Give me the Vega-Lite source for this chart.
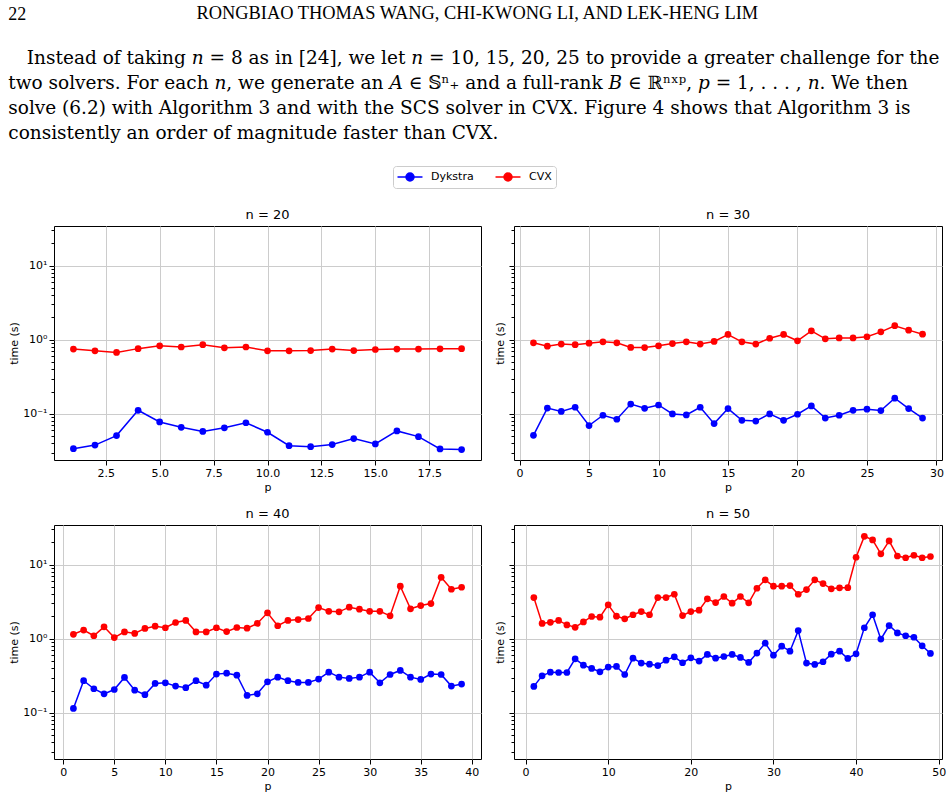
{
  "$schema": "https://vega.github.io/schema/vega-lite/v6.json",
  "padding": {"left": 8, "top": 3, "right": 2, "bottom": 3},
  "background": "white",
  "title": {"text": "22", "anchor": "start", "font": "Liberation Serif", "fontSize": 18, "fontWeight": "normal", "offset": -20},
  "resolve": {"scale": {"color": "independent"}},
  "vconcat": [
    {
      "title": {"text": "RONGBIAO THOMAS WANG, CHI-KWONG LI, AND LEK-HENG LIM", "anchor": "middle", "font": "Liberation Serif", "fontSize": 18.4, "fontWeight": "normal", "offset": 27},
      "resolve": {"scale": {"color": "independent"}},
      "vconcat": [
        {
          "title": {
            "text": [
              "\u200b\u2003Instead of taking 𝑛 = 8 as in [24], we let 𝑛 = 10, 15, 20, 25 to provide a greater challenge for the",
              "two solvers. For each 𝑛, we generate an 𝐴 ∈ 𝕊ⁿ₊ and a full-rank 𝐵 ∈ ℝⁿˣᵖ, 𝑝 = 1, . . . , 𝑛. We then",
              "solve (6.2) with Algorithm 3 and with the SCS solver in CVX. Figure 4 shows that Algorithm 3 is",
              "consistently an order of magnitude faster than CVX."
            ],
            "anchor": "start", "font": "DejaVu Serif", "fontSize": 18.5, "fontWeight": "normal", "lineHeight": 25, "offset": 23
          },
          "data": {"values": [
{"n":20,"p":1,"solver":"Dykstra","time":0.034},{"n":20,"p":2,"solver":"Dykstra","time":0.038},{"n":20,"p":3,"solver":"Dykstra","time":0.051},{"n":20,"p":4,"solver":"Dykstra","time":0.112},{"n":20,"p":5,"solver":"Dykstra","time":0.078},{"n":20,"p":6,"solver":"Dykstra","time":0.066},{"n":20,"p":7,"solver":"Dykstra","time":0.058},{"n":20,"p":8,"solver":"Dykstra","time":0.065},{"n":20,"p":9,"solver":"Dykstra","time":0.076},{"n":20,"p":10,"solver":"Dykstra","time":0.0566},{"n":20,"p":11,"solver":"Dykstra","time":0.0373},{"n":20,"p":12,"solver":"Dykstra","time":0.0362},{"n":20,"p":13,"solver":"Dykstra","time":0.0386},{"n":20,"p":14,"solver":"Dykstra","time":0.0465},{"n":20,"p":15,"solver":"Dykstra","time":0.0394},{"n":20,"p":16,"solver":"Dykstra","time":0.059},{"n":20,"p":17,"solver":"Dykstra","time":0.0494},{"n":20,"p":18,"solver":"Dykstra","time":0.0337},{"n":20,"p":19,"solver":"Dykstra","time":0.033},
{"n":20,"p":1,"solver":"CVX","time":0.75},{"n":20,"p":2,"solver":"CVX","time":0.71},{"n":20,"p":3,"solver":"CVX","time":0.675},{"n":20,"p":4,"solver":"CVX","time":0.76},{"n":20,"p":5,"solver":"CVX","time":0.83},{"n":20,"p":6,"solver":"CVX","time":0.8},{"n":20,"p":7,"solver":"CVX","time":0.86},{"n":20,"p":8,"solver":"CVX","time":0.78},{"n":20,"p":9,"solver":"CVX","time":0.8},{"n":20,"p":10,"solver":"CVX","time":0.71},{"n":20,"p":11,"solver":"CVX","time":0.71},{"n":20,"p":12,"solver":"CVX","time":0.715},{"n":20,"p":13,"solver":"CVX","time":0.75},{"n":20,"p":14,"solver":"CVX","time":0.715},{"n":20,"p":15,"solver":"CVX","time":0.74},{"n":20,"p":16,"solver":"CVX","time":0.75},{"n":20,"p":17,"solver":"CVX","time":0.75},{"n":20,"p":18,"solver":"CVX","time":0.755},{"n":20,"p":19,"solver":"CVX","time":0.76},
{"n":30,"p":1,"solver":"Dykstra","time":0.0515},{"n":30,"p":2,"solver":"Dykstra","time":0.12},{"n":30,"p":3,"solver":"Dykstra","time":0.108},{"n":30,"p":4,"solver":"Dykstra","time":0.123},{"n":30,"p":5,"solver":"Dykstra","time":0.0697},{"n":30,"p":6,"solver":"Dykstra","time":0.096},{"n":30,"p":7,"solver":"Dykstra","time":0.0848},{"n":30,"p":8,"solver":"Dykstra","time":0.136},{"n":30,"p":9,"solver":"Dykstra","time":0.119},{"n":30,"p":10,"solver":"Dykstra","time":0.132},{"n":30,"p":11,"solver":"Dykstra","time":0.1},{"n":30,"p":12,"solver":"Dykstra","time":0.097},{"n":30,"p":13,"solver":"Dykstra","time":0.123},{"n":30,"p":14,"solver":"Dykstra","time":0.074},{"n":30,"p":15,"solver":"Dykstra","time":0.118},{"n":30,"p":16,"solver":"Dykstra","time":0.082},{"n":30,"p":17,"solver":"Dykstra","time":0.08},{"n":30,"p":18,"solver":"Dykstra","time":0.1},{"n":30,"p":19,"solver":"Dykstra","time":0.082},{"n":30,"p":20,"solver":"Dykstra","time":0.099},{"n":30,"p":21,"solver":"Dykstra","time":0.128},{"n":30,"p":22,"solver":"Dykstra","time":0.088},{"n":30,"p":23,"solver":"Dykstra","time":0.096},{"n":30,"p":24,"solver":"Dykstra","time":0.112},{"n":30,"p":25,"solver":"Dykstra","time":0.116},{"n":30,"p":26,"solver":"Dykstra","time":0.111},{"n":30,"p":27,"solver":"Dykstra","time":0.163},{"n":30,"p":28,"solver":"Dykstra","time":0.118},{"n":30,"p":29,"solver":"Dykstra","time":0.088},
{"n":30,"p":1,"solver":"CVX","time":0.91},{"n":30,"p":2,"solver":"CVX","time":0.82},{"n":30,"p":3,"solver":"CVX","time":0.875},{"n":30,"p":4,"solver":"CVX","time":0.86},{"n":30,"p":5,"solver":"CVX","time":0.9},{"n":30,"p":6,"solver":"CVX","time":0.94},{"n":30,"p":7,"solver":"CVX","time":0.91},{"n":30,"p":8,"solver":"CVX","time":0.79},{"n":30,"p":9,"solver":"CVX","time":0.785},{"n":30,"p":10,"solver":"CVX","time":0.83},{"n":30,"p":11,"solver":"CVX","time":0.89},{"n":30,"p":12,"solver":"CVX","time":0.94},{"n":30,"p":13,"solver":"CVX","time":0.875},{"n":30,"p":14,"solver":"CVX","time":0.95},{"n":30,"p":15,"solver":"CVX","time":1.18},{"n":30,"p":16,"solver":"CVX","time":0.94},{"n":30,"p":17,"solver":"CVX","time":0.875},{"n":30,"p":18,"solver":"CVX","time":1.05},{"n":30,"p":19,"solver":"CVX","time":1.18},{"n":30,"p":20,"solver":"CVX","time":0.97},{"n":30,"p":21,"solver":"CVX","time":1.32},{"n":30,"p":22,"solver":"CVX","time":1.03},{"n":30,"p":23,"solver":"CVX","time":1.06},{"n":30,"p":24,"solver":"CVX","time":1.06},{"n":30,"p":25,"solver":"CVX","time":1.1},{"n":30,"p":26,"solver":"CVX","time":1.28},{"n":30,"p":27,"solver":"CVX","time":1.55},{"n":30,"p":28,"solver":"CVX","time":1.35},{"n":30,"p":29,"solver":"CVX","time":1.19},
{"n":40,"p":1,"solver":"Dykstra","time":0.115},{"n":40,"p":2,"solver":"Dykstra","time":0.272},{"n":40,"p":3,"solver":"Dykstra","time":0.212},{"n":40,"p":4,"solver":"Dykstra","time":0.181},{"n":40,"p":5,"solver":"Dykstra","time":0.207},{"n":40,"p":6,"solver":"Dykstra","time":0.301},{"n":40,"p":7,"solver":"Dykstra","time":0.203},{"n":40,"p":8,"solver":"Dykstra","time":0.176},{"n":40,"p":9,"solver":"Dykstra","time":0.25},{"n":40,"p":10,"solver":"Dykstra","time":0.255},{"n":40,"p":11,"solver":"Dykstra","time":0.23},{"n":40,"p":12,"solver":"Dykstra","time":0.219},{"n":40,"p":13,"solver":"Dykstra","time":0.272},{"n":40,"p":14,"solver":"Dykstra","time":0.237},{"n":40,"p":15,"solver":"Dykstra","time":0.334},{"n":40,"p":16,"solver":"Dykstra","time":0.344},{"n":40,"p":17,"solver":"Dykstra","time":0.323},{"n":40,"p":18,"solver":"Dykstra","time":0.172},{"n":40,"p":19,"solver":"Dykstra","time":0.181},{"n":40,"p":20,"solver":"Dykstra","time":0.263},{"n":40,"p":21,"solver":"Dykstra","time":0.304},{"n":40,"p":22,"solver":"Dykstra","time":0.272},{"n":40,"p":23,"solver":"Dykstra","time":0.258},{"n":40,"p":24,"solver":"Dykstra","time":0.258},{"n":40,"p":25,"solver":"Dykstra","time":0.286},{"n":40,"p":26,"solver":"Dykstra","time":0.355},{"n":40,"p":27,"solver":"Dykstra","time":0.304},{"n":40,"p":28,"solver":"Dykstra","time":0.292},{"n":40,"p":29,"solver":"Dykstra","time":0.304},{"n":40,"p":30,"solver":"Dykstra","time":0.355},{"n":40,"p":31,"solver":"Dykstra","time":0.255},{"n":40,"p":32,"solver":"Dykstra","time":0.33},{"n":40,"p":33,"solver":"Dykstra","time":0.374},{"n":40,"p":34,"solver":"Dykstra","time":0.304},{"n":40,"p":35,"solver":"Dykstra","time":0.283},{"n":40,"p":36,"solver":"Dykstra","time":0.334},{"n":40,"p":37,"solver":"Dykstra","time":0.33},{"n":40,"p":38,"solver":"Dykstra","time":0.23},{"n":40,"p":39,"solver":"Dykstra","time":0.245},
{"n":40,"p":1,"solver":"CVX","time":1.15},{"n":40,"p":2,"solver":"CVX","time":1.31},{"n":40,"p":3,"solver":"CVX","time":1.1},{"n":40,"p":4,"solver":"CVX","time":1.45},{"n":40,"p":5,"solver":"CVX","time":1.04},{"n":40,"p":6,"solver":"CVX","time":1.24},{"n":40,"p":7,"solver":"CVX","time":1.18},{"n":40,"p":8,"solver":"CVX","time":1.38},{"n":40,"p":9,"solver":"CVX","time":1.48},{"n":40,"p":10,"solver":"CVX","time":1.41},{"n":40,"p":11,"solver":"CVX","time":1.66},{"n":40,"p":12,"solver":"CVX","time":1.77},{"n":40,"p":13,"solver":"CVX","time":1.24},{"n":40,"p":14,"solver":"CVX","time":1.24},{"n":40,"p":15,"solver":"CVX","time":1.41},{"n":40,"p":16,"solver":"CVX","time":1.25},{"n":40,"p":17,"solver":"CVX","time":1.42},{"n":40,"p":18,"solver":"CVX","time":1.39},{"n":40,"p":19,"solver":"CVX","time":1.61},{"n":40,"p":20,"solver":"CVX","time":2.24},{"n":40,"p":21,"solver":"CVX","time":1.5},{"n":40,"p":22,"solver":"CVX","time":1.77},{"n":40,"p":23,"solver":"CVX","time":1.82},{"n":40,"p":24,"solver":"CVX","time":1.88},{"n":40,"p":25,"solver":"CVX","time":2.64},{"n":40,"p":26,"solver":"CVX","time":2.35},{"n":40,"p":27,"solver":"CVX","time":2.31},{"n":40,"p":28,"solver":"CVX","time":2.67},{"n":40,"p":29,"solver":"CVX","time":2.51},{"n":40,"p":30,"solver":"CVX","time":2.35},{"n":40,"p":31,"solver":"CVX","time":2.35},{"n":40,"p":32,"solver":"CVX","time":2.04},{"n":40,"p":33,"solver":"CVX","time":5.12},{"n":40,"p":34,"solver":"CVX","time":2.54},{"n":40,"p":35,"solver":"CVX","time":2.81},{"n":40,"p":36,"solver":"CVX","time":2.99},{"n":40,"p":37,"solver":"CVX","time":6.76},{"n":40,"p":38,"solver":"CVX","time":4.66},{"n":40,"p":39,"solver":"CVX","time":4.96},
{"n":50,"p":1,"solver":"Dykstra","time":0.228},{"n":50,"p":2,"solver":"Dykstra","time":0.317},{"n":50,"p":3,"solver":"Dykstra","time":0.355},{"n":50,"p":4,"solver":"Dykstra","time":0.351},{"n":50,"p":5,"solver":"Dykstra","time":0.351},{"n":50,"p":6,"solver":"Dykstra","time":0.537},{"n":50,"p":7,"solver":"Dykstra","time":0.441},{"n":50,"p":8,"solver":"Dykstra","time":0.398},{"n":50,"p":9,"solver":"Dykstra","time":0.359},{"n":50,"p":10,"solver":"Dykstra","time":0.415},{"n":50,"p":11,"solver":"Dykstra","time":0.424},{"n":50,"p":12,"solver":"Dykstra","time":0.33},{"n":50,"p":13,"solver":"Dykstra","time":0.548},{"n":50,"p":14,"solver":"Dykstra","time":0.47},{"n":50,"p":15,"solver":"Dykstra","time":0.455},{"n":50,"p":16,"solver":"Dykstra","time":0.436},{"n":50,"p":17,"solver":"Dykstra","time":0.515},{"n":50,"p":18,"solver":"Dykstra","time":0.572},{"n":50,"p":19,"solver":"Dykstra","time":0.475},{"n":50,"p":20,"solver":"Dykstra","time":0.554},{"n":50,"p":21,"solver":"Dykstra","time":0.5},{"n":50,"p":22,"solver":"Dykstra","time":0.615},{"n":50,"p":23,"solver":"Dykstra","time":0.548},{"n":50,"p":24,"solver":"Dykstra","time":0.577},{"n":50,"p":25,"solver":"Dykstra","time":0.615},{"n":50,"p":26,"solver":"Dykstra","time":0.56},{"n":50,"p":27,"solver":"Dykstra","time":0.48},{"n":50,"p":28,"solver":"Dykstra","time":0.641},{"n":50,"p":29,"solver":"Dykstra","time":0.873},{"n":50,"p":30,"solver":"Dykstra","time":0.601},{"n":50,"p":31,"solver":"Dykstra","time":0.796},{"n":50,"p":32,"solver":"Dykstra","time":0.681},{"n":50,"p":33,"solver":"Dykstra","time":1.29},{"n":50,"p":34,"solver":"Dykstra","time":0.47},{"n":50,"p":35,"solver":"Dykstra","time":0.451},{"n":50,"p":36,"solver":"Dykstra","time":0.49},{"n":50,"p":37,"solver":"Dykstra","time":0.621},{"n":50,"p":38,"solver":"Dykstra","time":0.681},{"n":50,"p":39,"solver":"Dykstra","time":0.543},{"n":50,"p":40,"solver":"Dykstra","time":0.628},{"n":50,"p":41,"solver":"Dykstra","time":1.41},{"n":50,"p":42,"solver":"Dykstra","time":2.11},{"n":50,"p":43,"solver":"Dykstra","time":0.99},{"n":50,"p":44,"solver":"Dykstra","time":1.51},{"n":50,"p":45,"solver":"Dykstra","time":1.2},{"n":50,"p":46,"solver":"Dykstra","time":1.1},{"n":50,"p":47,"solver":"Dykstra","time":1.05},{"n":50,"p":48,"solver":"Dykstra","time":0.805},{"n":50,"p":49,"solver":"Dykstra","time":0.634},
{"n":50,"p":1,"solver":"CVX","time":3.6},{"n":50,"p":2,"solver":"CVX","time":1.61},{"n":50,"p":3,"solver":"CVX","time":1.67},{"n":50,"p":4,"solver":"CVX","time":1.77},{"n":50,"p":5,"solver":"CVX","time":1.54},{"n":50,"p":6,"solver":"CVX","time":1.43},{"n":50,"p":7,"solver":"CVX","time":1.69},{"n":50,"p":8,"solver":"CVX","time":2.0},{"n":50,"p":9,"solver":"CVX","time":1.96},{"n":50,"p":10,"solver":"CVX","time":2.87},{"n":50,"p":11,"solver":"CVX","time":2.02},{"n":50,"p":12,"solver":"CVX","time":1.86},{"n":50,"p":13,"solver":"CVX","time":2.11},{"n":50,"p":14,"solver":"CVX","time":2.33},{"n":50,"p":15,"solver":"CVX","time":2.11},{"n":50,"p":16,"solver":"CVX","time":3.6},{"n":50,"p":17,"solver":"CVX","time":3.6},{"n":50,"p":18,"solver":"CVX","time":3.99},{"n":50,"p":19,"solver":"CVX","time":2.06},{"n":50,"p":20,"solver":"CVX","time":2.33},{"n":50,"p":21,"solver":"CVX","time":2.43},{"n":50,"p":22,"solver":"CVX","time":3.46},{"n":50,"p":23,"solver":"CVX","time":3.08},{"n":50,"p":24,"solver":"CVX","time":3.72},{"n":50,"p":25,"solver":"CVX","time":3.02},{"n":50,"p":26,"solver":"CVX","time":3.72},{"n":50,"p":27,"solver":"CVX","time":3.06},{"n":50,"p":28,"solver":"CVX","time":4.81},{"n":50,"p":29,"solver":"CVX","time":6.24},{"n":50,"p":30,"solver":"CVX","time":5.12},{"n":50,"p":31,"solver":"CVX","time":5.12},{"n":50,"p":32,"solver":"CVX","time":5.23},{"n":50,"p":33,"solver":"CVX","time":3.99},{"n":50,"p":34,"solver":"CVX","time":4.62},{"n":50,"p":35,"solver":"CVX","time":6.24},{"n":50,"p":36,"solver":"CVX","time":5.56},{"n":50,"p":37,"solver":"CVX","time":4.72},{"n":50,"p":38,"solver":"CVX","time":4.87},{"n":50,"p":39,"solver":"CVX","time":4.9},{"n":50,"p":40,"solver":"CVX","time":12.6},{"n":50,"p":41,"solver":"CVX","time":24.1},{"n":50,"p":42,"solver":"CVX","time":21.6},{"n":50,"p":43,"solver":"CVX","time":14.0},{"n":50,"p":44,"solver":"CVX","time":20.9},{"n":50,"p":45,"solver":"CVX","time":13.1},{"n":50,"p":46,"solver":"CVX","time":12.4},{"n":50,"p":47,"solver":"CVX","time":13.4},{"n":50,"p":48,"solver":"CVX","time":12.4},{"n":50,"p":49,"solver":"CVX","time":12.9}
          ]},
          "columns": 2,
          "spacing": {"row": 14, "column": 12},
          "concat": [
            {
              "width": 427, "height": 234,
              "title": "n = 20",
              "transform": [{"filter": "datum.n == 20"}],
              "resolve": {"axis": {"y": "independent"}},
              "layer": [
                {
                  "mark": {"type": "line", "strokeWidth": 1.5},
                  "encoding": {
                    "x": {"field": "p", "type": "quantitative", "scale": {"domain": [0.1, 19.9], "nice": false, "zero": false}, "axis": {"values": [2.5, 5, 7.5, 10, 12.5, 15, 17.5], "format": ".1f", "title": "p"}},
                    "y": {"field": "time", "type": "quantitative", "scale": {"type": "log", "domain": [0.0239, 34.3], "nice": false}, "axis": {"values": [0.1, 1, 10], "labelExpr": "datum.value > 5 ? '10¹' : datum.value > 0.5 ? '10⁰' : '10⁻¹'", "title": "time (s)"}},
                    "color": {"field": "solver", "type": "nominal", "scale": {"domain": ["Dykstra", "CVX"], "range": ["#0000ff", "#ff0000"]},
                      "legend": {"orient": "none", "legendX": 339, "legendY": -60, "direction": "horizontal", "columns": 2, "title": null, "labelFont": "DejaVu Sans", "labelFontSize": 11, "labelColor": "black", "symbolType": "M-2,0L2,0M0.64,0A0.64,0.64,0,1,1,-0.64,0A0.64,0.64,0,1,1,0.64,0", "symbolSize": 156, "symbolStrokeWidth": 1.5, "symbolOffset": 6, "labelOffset": 14, "columnPadding": 18, "padding": 4, "strokeColor": "#cccccc", "cornerRadius": 3, "fillColor": "white",
                        "encode": {"symbols": {"update": {"fill": {"scale": "color", "field": "value"}, "stroke": {"scale": "color", "field": "value"}, "opacity": {"value": 1}}}}}}
                  }
                },
                {
                  "mark": {"type": "point", "filled": true, "size": 45, "opacity": 1},
                  "encoding": {
                    "x": {"field": "p", "type": "quantitative"},
                    "y": {"field": "time", "type": "quantitative", "axis": {"orient": "left", "values": [0.03,0.04,0.05,0.06,0.07,0.08,0.09,0.2,0.3,0.4,0.5,0.6,0.7,0.8,0.9,2,3,4,5,6,7,8,9,20,30], "labels": false, "grid": false, "tickSize": 3, "title": null}},
                    "color": {"field": "solver", "type": "nominal"}
                  }
                }
              ]
            },
            {
              "width": 428, "height": 234,
              "title": "n = 30",
              "transform": [{"filter": "datum.n == 30"}],
              "resolve": {"axis": {"y": "independent"}},
              "layer": [
                {
                  "mark": {"type": "line", "strokeWidth": 1.5},
                  "encoding": {
                    "x": {"field": "p", "type": "quantitative", "scale": {"domain": [-0.4, 30.4], "nice": false, "zero": false}, "axis": {"values": [0, 5, 10, 15, 20, 25, 30], "title": "p"}},
                    "y": {"field": "time", "type": "quantitative", "scale": {"type": "log", "domain": [0.0239, 34.3], "nice": false}, "axis": {"values": [0.1, 1, 10], "labels": false, "title": "time (s)"}},
                    "color": {"field": "solver", "type": "nominal"}
                  }
                },
                {
                  "mark": {"type": "point", "filled": true, "size": 45, "opacity": 1},
                  "encoding": {
                    "x": {"field": "p", "type": "quantitative"},
                    "y": {"field": "time", "type": "quantitative", "axis": {"orient": "left", "values": [0.03,0.04,0.05,0.06,0.07,0.08,0.09,0.2,0.3,0.4,0.5,0.6,0.7,0.8,0.9,2,3,4,5,6,7,8,9,20,30], "labels": false, "grid": false, "tickSize": 3, "title": null}},
                    "color": {"field": "solver", "type": "nominal"}
                  }
                }
              ]
            },
            {
              "width": 427, "height": 234,
              "title": "n = 40",
              "transform": [{"filter": "datum.n == 40"}],
              "resolve": {"axis": {"y": "independent"}},
              "layer": [
                {
                  "mark": {"type": "line", "strokeWidth": 1.5},
                  "encoding": {
                    "x": {"field": "p", "type": "quantitative", "scale": {"domain": [-0.9, 40.9], "nice": false, "zero": false}, "axis": {"values": [0, 5, 10, 15, 20, 25, 30, 35, 40], "title": "p"}},
                    "y": {"field": "time", "type": "quantitative", "scale": {"type": "log", "domain": [0.0239, 34.3], "nice": false}, "axis": {"values": [0.1, 1, 10], "labelExpr": "datum.value > 5 ? '10¹' : datum.value > 0.5 ? '10⁰' : '10⁻¹'", "title": "time (s)"}},
                    "color": {"field": "solver", "type": "nominal"}
                  }
                },
                {
                  "mark": {"type": "point", "filled": true, "size": 45, "opacity": 1},
                  "encoding": {
                    "x": {"field": "p", "type": "quantitative"},
                    "y": {"field": "time", "type": "quantitative", "axis": {"orient": "left", "values": [0.03,0.04,0.05,0.06,0.07,0.08,0.09,0.2,0.3,0.4,0.5,0.6,0.7,0.8,0.9,2,3,4,5,6,7,8,9,20,30], "labels": false, "grid": false, "tickSize": 3, "title": null}},
                    "color": {"field": "solver", "type": "nominal"}
                  }
                }
              ]
            },
            {
              "width": 428, "height": 234,
              "title": "n = 50",
              "transform": [{"filter": "datum.n == 50"}],
              "resolve": {"axis": {"y": "independent"}},
              "layer": [
                {
                  "mark": {"type": "line", "strokeWidth": 1.5},
                  "encoding": {
                    "x": {"field": "p", "type": "quantitative", "scale": {"domain": [-1.4, 50.4], "nice": false, "zero": false}, "axis": {"values": [0, 10, 20, 30, 40, 50], "title": "p"}},
                    "y": {"field": "time", "type": "quantitative", "scale": {"type": "log", "domain": [0.0239, 34.3], "nice": false}, "axis": {"values": [0.1, 1, 10], "labels": false, "title": "time (s)"}},
                    "color": {"field": "solver", "type": "nominal"}
                  }
                },
                {
                  "mark": {"type": "point", "filled": true, "size": 45, "opacity": 1},
                  "encoding": {
                    "x": {"field": "p", "type": "quantitative"},
                    "y": {"field": "time", "type": "quantitative", "axis": {"orient": "left", "values": [0.03,0.04,0.05,0.06,0.07,0.08,0.09,0.2,0.3,0.4,0.5,0.6,0.7,0.8,0.9,2,3,4,5,6,7,8,9,20,30], "labels": false, "grid": false, "tickSize": 3, "title": null}},
                    "color": {"field": "solver", "type": "nominal"}
                  }
                }
              ]
            }
          ]
        }
      ]
    }
  ],
  "config": {
    "view": {"stroke": "black", "strokeWidth": 1},
    "title": {"font": "DejaVu Sans", "fontSize": 13, "fontWeight": "normal", "color": "black", "offset": 4},
    "axis": {"labelFont": "DejaVu Sans", "labelFontSize": 11, "labelColor": "black", "titleFont": "DejaVu Sans", "titleFontSize": 11, "titleFontWeight": "normal", "titleColor": "black", "tickColor": "black", "tickSize": 5, "tickWidth": 1, "labelPadding": 2, "titlePadding": 3, "gridColor": "#cccccc", "gridWidth": 1, "domain": false, "labelFlush": false, "labelOverlap": false}
  }
}
